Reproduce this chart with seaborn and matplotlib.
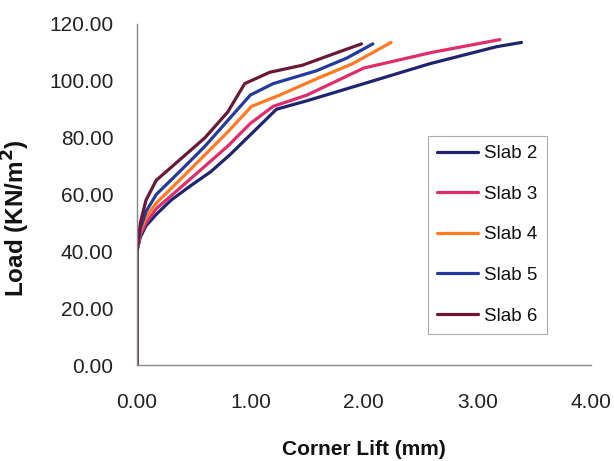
import matplotlib
matplotlib.use("Agg")
import matplotlib.pyplot as plt
import seaborn as sns
import pandas as pd

slab2_x = [0, 0.0, 0.03, 0.08, 0.17, 0.3, 0.47, 0.65, 0.82, 1.0, 1.23, 1.5, 2.0, 2.58, 3.17, 3.39]
slab2_y = [0, 40, 45, 49, 53, 58, 63, 68, 74, 81, 90, 93, 99, 106, 112, 113.5]
slab3_x = [0, 0, 0.03, 0.08, 0.17, 0.4, 0.6, 0.8, 1.0, 1.2, 1.5, 2.0, 2.6, 3.0, 3.2]
slab3_y = [0, 40, 46, 50, 55, 63, 70, 77, 85, 91, 95, 104.5, 110, 113, 114.5]
slab4_x = [0, 0, 0.03, 0.08, 0.17, 0.4, 0.6, 0.8, 1.01, 1.26, 1.6, 1.9, 2.24]
slab4_y = [0, 40, 47, 52, 57, 66, 74, 82, 91, 95, 101, 106, 113.5]
slab5_x = [0, 0, 0.03, 0.08, 0.17, 0.4, 0.6, 0.8, 1.0, 1.2, 1.58, 1.85, 2.08]
slab5_y = [0, 40, 48, 54, 60, 69, 77, 86, 95, 99, 103.5, 108, 113]
slab6_x = [0, 0, 0.03, 0.08, 0.17, 0.4, 0.6, 0.8, 0.95, 1.17, 1.46, 1.7, 1.98]
slab6_y = [0, 40, 50, 58, 65, 73, 80, 89, 99, 103, 105.5, 109, 113]

series = {
    "Slab 2": (slab2_x, slab2_y),
    "Slab 3": (slab3_x, slab3_y),
    "Slab 4": (slab4_x, slab4_y),
    "Slab 5": (slab5_x, slab5_y),
    "Slab 6": (slab6_x, slab6_y),
}
rows = []
for name, (xs, ys) in series.items():
    for i, (x, y) in enumerate(zip(xs, ys)):
        rows.append({"slab": name, "order": i, "x": x, "y": y})
df = pd.DataFrame(rows)

palette = {"Slab 2": "#1f2470", "Slab 3": "#e02c6c", "Slab 4": "#ff7a22",
           "Slab 5": "#233a9e", "Slab 6": "#6b1838"}

sns.set_style("white")
plt.rcParams["font.family"] = ["Liberation Sans", "DejaVu Sans"]

fig = plt.figure(figsize=(6.14, 4.61), dpi=100)
ax = fig.add_axes([0.223, 0.208, 0.739, 0.74])
sns.lineplot(data=df, x="x", y="y", hue="slab", palette=palette, sort=False,
             estimator=None, units="slab", lw=2.3, ax=ax)

ax.set_xlim(0, 4)
ax.set_ylim(0, 120)
ax.set_xticks([0, 1, 2, 3, 4])
ax.set_yticks([0, 20, 40, 60, 80, 100, 120])
ax.set_xticklabels([f"{v:.2f}" for v in [0, 1, 2, 3, 4]])
ax.set_yticklabels([f"{v:.2f}" for v in [0, 20, 40, 60, 80, 100, 120]])
for s in ["top", "right"]:
    ax.spines[s].set_visible(False)
for s in ["left", "bottom"]:
    ax.spines[s].set_color("#888888")
    ax.spines[s].set_linewidth(1.0)
ax.tick_params(axis="both", which="both", direction="out", length=5, width=1,
               color="#888888", labelsize=15, labelcolor="#222222")
ax.tick_params(axis="y", pad=12)
ax.tick_params(axis="x", pad=15)
ax.set_xlabel("Corner Lift (mm)", fontsize=15, fontweight="bold", labelpad=20,
              color="#111111")
ax.set_ylabel("Load (KN/m$^\\mathbf{2}$)", fontsize=17.5, fontweight="bold",
              color="#111111")
ax.yaxis.set_label_coords(-0.231, 0.43)

handles, labels = ax.get_legend_handles_labels()
leg = ax.legend(handles, labels, loc="upper left", bbox_to_anchor=(0.641, 0.672),
                frameon=True, fancybox=False, edgecolor="#999999", fontsize=13.5,
                handlelength=2.2, labelspacing=1.25, borderpad=0.5, handletextpad=0.3,
                borderaxespad=0)
leg.get_frame().set_linewidth(0.8)
for t in leg.get_texts():
    t.set_color("#111111")

fig.savefig("out.png", dpi=100)
